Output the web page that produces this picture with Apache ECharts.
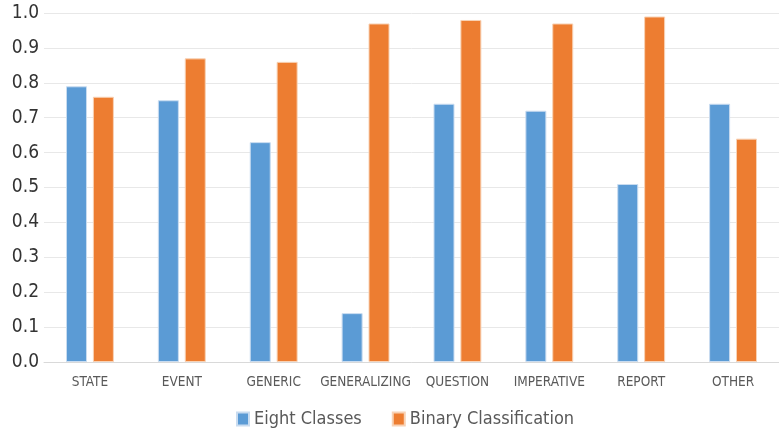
<!DOCTYPE html>
<html>
<head>
<meta charset="utf-8">
<script src="https://cdn.jsdelivr.net/npm/echarts@6/dist/echarts.min.js"></script>
<style>html,body{margin:0;padding:0;background:#fff;}#c{width:779px;height:432px;}</style>
</head>
<body>
<div id="c"></div>
<script>
const categories = ['STATE','EVENT','GENERIC','GENERALIZING','QUESTION','IMPERATIVE','REPORT','OTHER'];
const eightClasses = [0.79,0.75,0.63,0.14,0.74,0.72,0.51,0.74];
const binaryClassification = [0.76,0.87,0.86,0.97,0.98,0.97,0.99,0.64];
const yTicks = {min:0, max:1.0, interval:0.1};

const chart = echarts.init(document.getElementById('c'), null, {renderer:'canvas'});
chart.setOption({
  animation:false,
  backgroundColor:'#fff',
  grid:{left:44, top:13, width:744, height:349},
  legend:{
    left:231, top:405, itemWidth:12, itemHeight:13, itemGap:30,
    icon:'rect',
    textStyle:{fontSize:18, color:'#595959', fontFamily:'Liberation Sans Narrow, DejaVu Sans Condensed, sans-serif'},
    data:['Eight Classes','Binary Classification']
  },
  xAxis:{
    type:'category', data:categories,
    axisLine:{lineStyle:{color:'#d9d9d9', width:1}},
    axisTick:{show:false},
    axisLabel:{color:'#595959', fontSize:13.5, margin:13, interval:0,
      fontFamily:'Liberation Sans Narrow, DejaVu Sans Condensed, sans-serif'}
  },
  yAxis:{
    type:'value', min:yTicks.min, max:yTicks.max, interval:yTicks.interval,
    axisLine:{show:false}, axisTick:{show:false},
    splitLine:{lineStyle:{color:'#e8e8e8', width:1}},
    axisLabel:{color:'#333333', fontSize:19, margin:5,
      fontFamily:'Liberation Sans Narrow, DejaVu Sans Condensed, sans-serif',
      formatter:v=>v.toFixed(1)}
  },
  series:[
    {name:'Eight Classes', type:'bar', data:eightClasses, barWidth:21, barGap:'28%',
     itemStyle:{color:'#5B9BD5', borderColor:'#c9dcf0', borderWidth:1}},
    {name:'Binary Classification', type:'bar', data:binaryClassification, barWidth:21,
     itemStyle:{color:'#ED7D31', borderColor:'#f8d2b5', borderWidth:1}}
  ]
});
</script>
</body>
</html>
